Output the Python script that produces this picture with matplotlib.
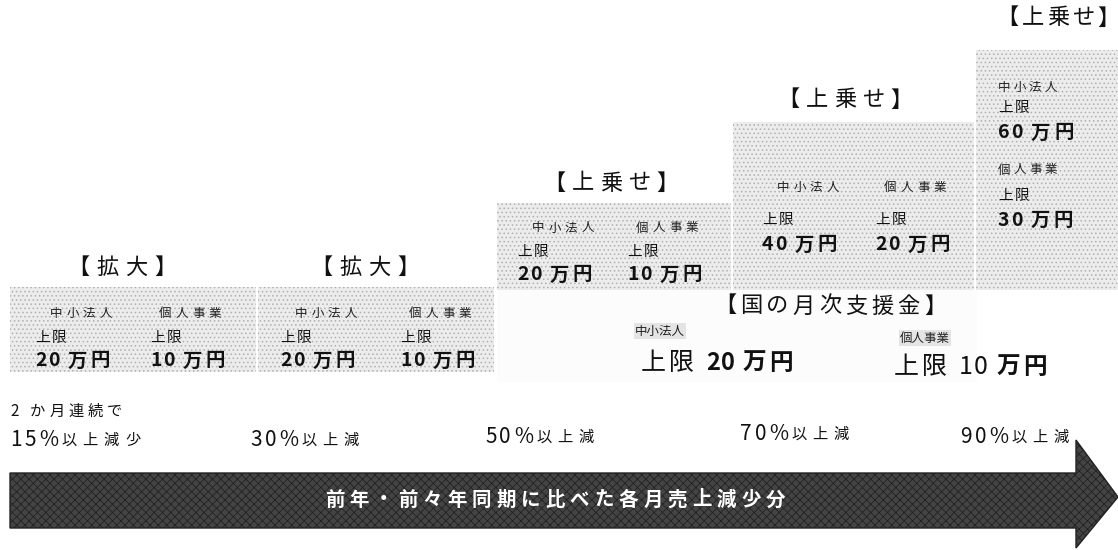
import matplotlib.pyplot as plt
from matplotlib.patches import Polygon

plt.rcParams['font.family'] = ['Noto Sans CJK JP', 'DejaVu Sans']
plt.rcParams['hatch.linewidth'] = 0.6

# data
thresholds = ['15%', '30%', '50%', '70%', '90%']
threshold_suffix = ['以上減少', '以上減', '以上減', '以上減', '以上減']
tier_labels = ['【拡大】', '【拡大】', '【上乗せ】', '【上乗せ】', '【上乗せ】']
corp_caps = [20, 20, 20, 40, 60]     # 中小法人 上限 (万円)
indiv_caps = [10, 10, 10, 20, 30]    # 個人事業 上限 (万円)
national_title = '【国の月次支援金】'
national_corp = 20
national_indiv = 10
arrow_text = '前年・前々年同期に比べた各月売上減少分'

# layout (pixels, y downward)
box_left = [10, 258, 497, 733, 976]
box_width = [246, 236, 234, 241, 142]
box_top = [287, 287, 203, 122, 50]
box_bottom = [372, 372, 290, 290, 290]
title_xy = [(122, 267), (365, 267), (611, 183), (845, 100), (1058, 18)]
title_gap = [7, 7, 6, 6, 3]
col_x = [(35, 150), (280, 400), (517, 627), (762, 875)]
row_y = [(313, 338, 361), (313, 338, 361), (228, 252, 275), (187, 220, 245)]
thr_xy = [(10, 440), (250, 440), (485, 437), (740, 434), (960, 437)]

fig = plt.figure(figsize=(11.18, 5.5), dpi=100)
ax = fig.add_axes([0, 0, 1, 1])
ax.set_xlim(0, 1118)
ax.set_ylim(550, 0)
ax.axis('off')
renderer = fig.canvas.get_renderer()


def spaced(x, y, runs, ha='left', zorder=3):
    # draw text char by char with extra letter spacing; runs = [(text, gap, props)]
    pieces = []
    for text, gap, props in runs:
        for ch in text:
            t = ax.text(0, y, ch, ha='left', va='center', zorder=zorder, **props)
            w = t.get_window_extent(renderer).width
            if ch == ' ':
                w = props.get('fontsize', 10) * 0.35
            pieces.append((t, w, gap))
    total = sum(w + g for _, w, g in pieces) - pieces[-1][2]
    cur = x - total / 2 if ha == 'center' else x
    for t, w, g in pieces:
        t.set_x(cur)
        cur += w + g


ax.bar(box_left, [b - t for b, t in zip(box_bottom, box_top)], width=box_width,
       bottom=box_top, align='edge', color='#ececec', edgecolor='#b0b0b0',
       hatch='....', linewidth=0, zorder=1)
# faint area under the 50% box
ax.bar([497], [92], width=[480], bottom=[290], align='edge',
       color='#fcfcfc', linewidth=0, zorder=0)

ink = '#111111'
small = dict(fontsize=9, color='#222222')
mid = dict(fontsize=10.5, color=ink)
big = dict(fontsize=14, fontweight='bold', color=ink)
title = dict(fontsize=16, color=ink)

for i in range(5):
    tx, ty = title_xy[i]
    spaced(tx, ty, [(tier_labels[i], title_gap[i], title)], ha='center')

for i in range(4):
    (xa, xb), (ly, cy, ay) = col_x[i], row_y[i]
    spaced(xa + 46, ly, [('中小法人', 4, small)], ha='center')
    spaced(xb + 40, ly, [('個人事業', 4, small)], ha='center')
    for x, v in zip((xa, xb), (corp_caps[i], indiv_caps[i])):
        spaced(x, cy, [('上限', 2, mid)])
        spaced(x, ay, [(f'{v} ', 1.5, big), ('万円', 4, big)])

x5 = 998
spaced(x5, 87, [('中小法人', 3, small)])
spaced(x5, 108, [('上限', 2, mid)])
spaced(x5, 133, [(f'{corp_caps[4]} ', 1.5, big), ('万円', 4, big)])
spaced(x5, 170, [('個人事業', 3, small)])
spaced(x5, 196, [('上限', 2, mid)])
spaced(x5, 220, [(f'{indiv_caps[4]} ', 1.5, big), ('万円', 4, big)])

# national support
spaced(830, 306, [(national_title, 4, title)], ha='center')
ax.text(660, 331, '中小法人', ha='center', va='center',
        bbox=dict(facecolor='#e4e4e4', edgecolor='none', pad=1), **small)
ax.text(925, 338, '個人事業', ha='center', va='center',
        bbox=dict(facecolor='#e4e4e4', edgecolor='none', pad=1), **small)
nat = dict(fontsize=18, color=ink)
natb = dict(fontsize=17, color=ink, fontweight='bold')
spaced(717, 363, [('上限 ', 3, nat), (f'{national_corp} ', 1, natb), ('万円', 3, natb)], ha='center')
spaced(970, 367, [('上限 ', 3, nat), (f'{national_indiv} ', 1, nat), ('万円', 3, natb)], ha='center')

# thresholds
spaced(10, 411, [('2 か月連続で', 4, dict(fontsize=11, color=ink))])
for (x, y), t, s in zip(thr_xy, thresholds, threshold_suffix):
    spaced(x, y, [(t, 3, dict(fontsize=15, color=ink)), (s, 6, dict(fontsize=11, color=ink))])

# arrow
arrow = Polygon([(10, 473), (1076, 473), (1076, 440), (1118, 497),
                 (1076, 548), (1076, 528), (10, 528)], closed=True,
                facecolor='#444444', edgecolor='#222222', hatch='xxxx', linewidth=1, zorder=2)
ax.add_patch(arrow)
spaced(555, 500, [(arrow_text, 5, dict(fontsize=14, fontweight='bold', color='white'))],
       ha='center', zorder=4)

fig.savefig('out.png', dpi=100)
